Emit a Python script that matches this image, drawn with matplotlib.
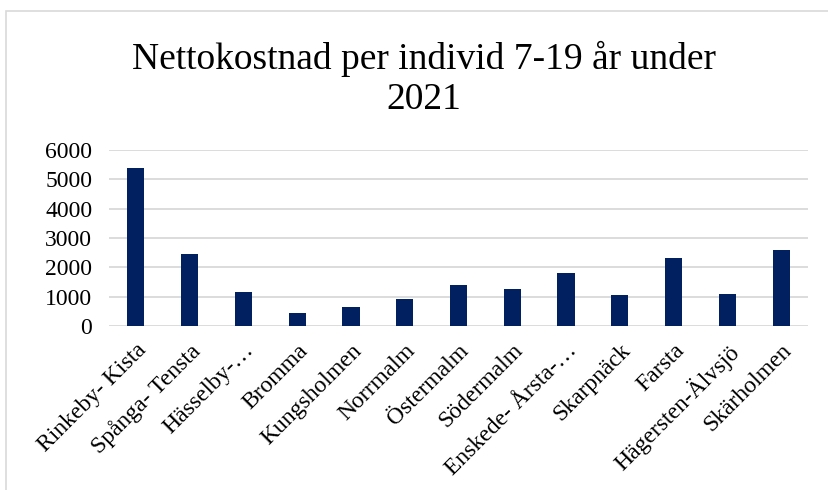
import matplotlib.pyplot as plt
from matplotlib.patches import Rectangle

plt.rcParams['font.family'] = ['Liberation Serif', 'DejaVu Serif']

# data
districts = ['Rinkeby- Kista', 'Spånga- Tensta', 'Hässelby-…', 'Bromma', 'Kungsholmen',
             'Norrmalm', 'Östermalm', 'Södermalm', 'Enskede- Årsta-…', 'Skarpnäck',
             'Farsta', 'Hägersten-Älvsjö', 'Skärholmen']
kostnad = [5370, 2460, 1170, 450, 645, 920, 1395, 1270, 1815, 1045, 2325, 1090, 2595]
yticks = [0, 1000, 2000, 3000, 4000, 5000, 6000]

W, H = 829, 490
fig = plt.figure(figsize=(W / 100, H / 100), dpi=100)

# chart frame (light grey border like the Excel chart area)
fig.patches.append(Rectangle((6 / W, -0.1), 1, 1.1 - 11 / H, transform=fig.transFigure,
                             fill=False, edgecolor='#d9d9d9', linewidth=1.2))

ax = fig.add_axes([109 / W, 1 - 326 / H, (808 - 109) / W, (326 - 150) / H])
x = range(len(districts))
ax.bar(x, kostnad, width=0.32, color='#002060', zorder=3)

ax.set_xlim(-0.5, len(districts) - 0.5)
ax.set_ylim(0, 6000)
ax.set_yticks(yticks)
ax.set_yticklabels([str(v) for v in yticks], fontsize=17)
ax.yaxis.grid(True, color='#d9d9d9', linewidth=1.3, zorder=0)
ax.tick_params(axis='both', length=0)
ax.tick_params(axis='y', pad=12)
for s in ax.spines.values():
    s.set_visible(False)

ax.set_xticks(list(x))
ax.set_xticklabels(districts, fontsize=17, rotation=45, ha='right', va='top',
                   rotation_mode='anchor')
ax.tick_params(axis='x', pad=10)

fig.text(424 / W, 1 - 79 / H, 'Nettokostnad per individ 7-19 år under\n2021',
         ha='center', va='center', fontsize=27, linespacing=1.18)

fig.savefig('out.png', dpi=100, facecolor='white')
